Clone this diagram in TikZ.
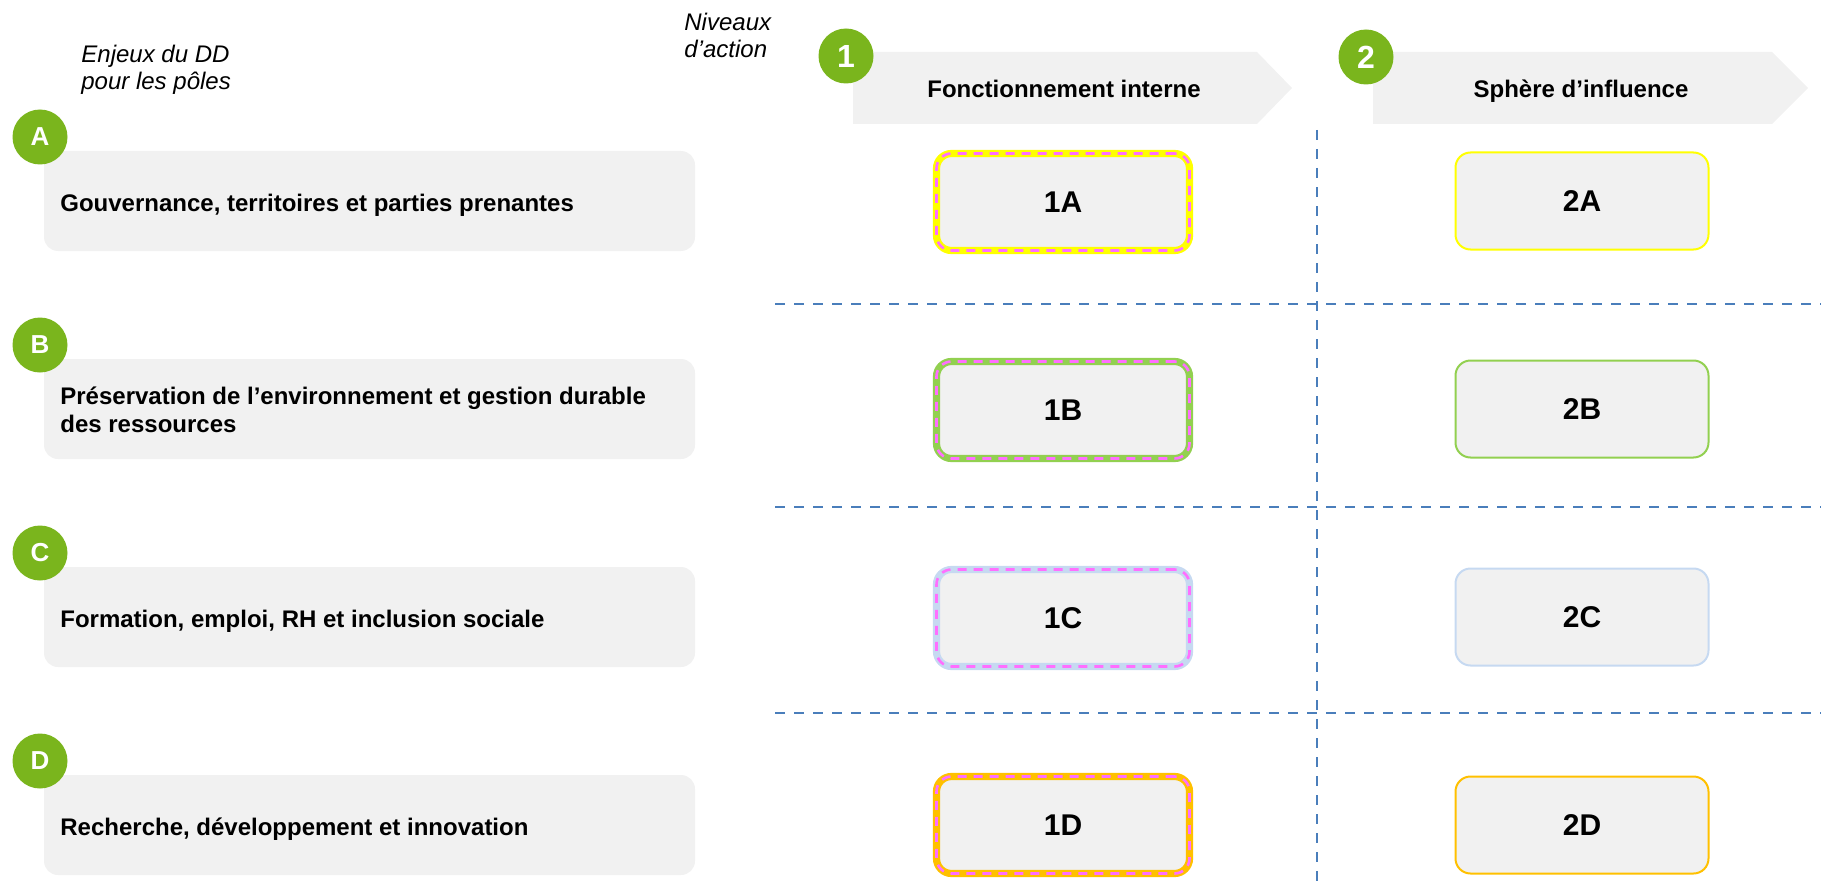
\documentclass[tikz,border=0pt]{standalone}
\usepackage{fontspec}
\setmainfont{Liberation Sans}
\usetikzlibrary{shapes.geometric,positioning}

\definecolor{polegreen}{RGB}{122,181,29}
\definecolor{panelgray}{RGB}{241,241,241}
\definecolor{splitblue}{RGB}{74,126,187}
\definecolor{dashpink}{RGB}{255,110,255}
\definecolor{govyellow}{RGB}{255,255,0}
\definecolor{envgreen}{RGB}{146,208,80}
\definecolor{rhblue}{RGB}{198,217,241}
\definecolor{rdorange}{RGB}{255,192,0}

\begin{document}
\begin{tikzpicture}[
    x=0.5pt, y=-0.5pt, font=\fontsize{12}{14}\selectfont,
    issue/.style={rectangle, rounded corners=7pt, fill=panelgray, minimum width=325.5pt, minimum height=50pt},
    issuetxt/.style={anchor=west, align=left, inner sep=0pt, font=\fontsize{12}{14}\selectfont\bfseries},
    badge/.style={circle, fill=polegreen, text=white, minimum size=27.5pt, inner sep=0pt, font=\fontsize{16}{16}\selectfont\bfseries},
    poletag/.style={badge, font=\fontsize{13}{13}\selectfont\bfseries},
    cell/.style={rectangle, rounded corners=7.5pt, fill=panelgray, draw=#1, line width=1pt, minimum width=126.5pt, minimum height=48.5pt, font=\fontsize{15}{15}\selectfont\bfseries},
    cellin/.style={cell=#1, line width=3.6pt, postaction={draw=dashpink, fill=none, line width=1.3pt, dash pattern=on 4.5pt off 3.5pt}},
    headtxt/.style={anchor=base, inner sep=0pt, font=\fontsize{12}{14}\selectfont\bfseries},
    note/.style={anchor=west, align=left, inner sep=0pt, font=\fontsize{12}{13.5}\selectfont\itshape},
    splitline/.style={splitblue, line width=1pt, dash pattern=on 5pt off 4.5pt}
]
    \useasboundingbox (0,0) rectangle (1821,883);
    % column headers
    \node[note] (enjeux) at (81,70) {Enjeux du DD\\pour les pôles};
    \node[note] (niveaux) at (684,35) {Niveaux\\d’action};
    \fill[panelgray] (853,52) -- (1257,52) -- (1292,88) -- (1257,124) -- (853,124) -- cycle;
    \fill[panelgray] (1373,52) -- (1772,52) -- (1808,88) -- (1772,124) -- (1373,124) -- cycle;
    \node[headtxt] (interne) at (1064,98) {Fonctionnement interne};
    \node[headtxt] (sphere) at (1581,98) {Sphère d’influence};
    \node[badge] (lvl1) at (846,56) {1};
    \node[badge] (lvl2) at (1366,57) {2};
    % separators
    \draw[splitline] (1317,130) -- (1317,883);
    \draw[splitline] (775,304) -- (1821,304);
    \draw[splitline] (775,507) -- (1821,507);
    \draw[splitline] (775,713) -- (1821,713);
    % issues
    \node[issue] (issA) at (369.5,201) {};
    \node[issue] (issB) at (369.5,409) {};
    \node[issue] (issC) at (369.5,617) {};
    \node[issue] (issD) at (369.5,825) {};
    \node[issuetxt] (txtA) at (60,205) {Gouvernance, territoires et parties prenantes};
    \node[issuetxt] (txtB) at (60,410) {Préservation de l’environnement et gestion durable\\des ressources};
    \node[issuetxt] (txtC) at (60,621) {Formation, emploi, RH et inclusion sociale};
    \node[issuetxt] (txtD) at (60,829) {Recherche, développement et innovation};
    \node[poletag] (poleA) at (40,137) {A};
    \node[poletag] (poleB) at (40,345) {B};
    \node[poletag] (poleC) at (40,553) {C};
    \node[poletag] (poleD) at (40,761) {D};
    % matrix cells
    \node[cellin=govyellow] (c1A) at (1063,202) {1A};
    \node[cellin=envgreen] (c1B) at (1063,410) {1B};
    \node[cellin=rhblue] (c1C) at (1063,618) {1C};
    \node[cellin=rdorange] (c1D) at (1063,825) {1D};
    \node[cell=govyellow] (c2A) at (1582,201) {2A};
    \node[cell=envgreen] (c2B) at (1582,409) {2B};
    \node[cell=rhblue] (c2C) at (1582,617) {2C};
    \node[cell=rdorange] (c2D) at (1582,825) {2D};
\end{tikzpicture}
\end{document}
